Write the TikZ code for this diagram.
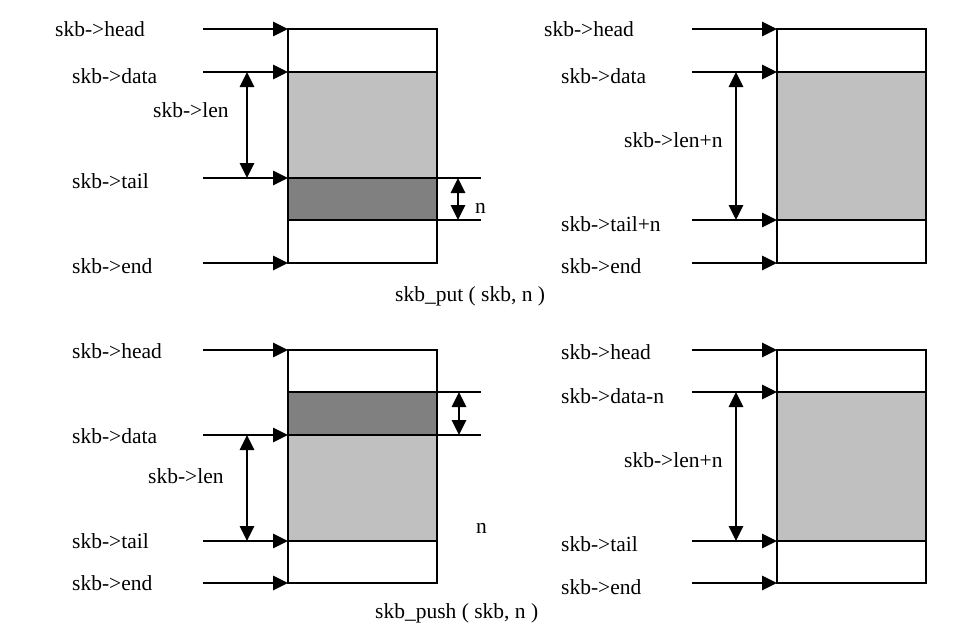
\documentclass[tikz,border=0pt]{standalone}
\usepackage{fontspec}
\setmainfont{Liberation Serif}
\usepackage{xcolor}
\usetikzlibrary{arrows.meta}
\definecolor{lightfill}{HTML}{C0C0C0}
\definecolor{darkfill}{HTML}{808080}
\tikzstyle{ptrname} = [anchor=base west, inner sep=0pt, font=\fontsize{21.5}{26}\selectfont]
\tikzstyle{bufbox} = [draw=black, line width=1.6pt]
\tikzstyle{divline} = [line width=2.2pt]
\tikzstyle{extline} = [line width=1.6pt]
\tikzstyle{ptrarrow} = [line width=2.8pt, -{Triangle[length=15pt, width=14pt]}]
\tikzstyle{lenarrow} = [line width=2.8pt, {Triangle[length=15pt, width=14pt]}-{Triangle[length=15pt, width=14pt]}]

\begin{document}
\begin{tikzpicture}[x=1pt, y=-1pt]
\useasboundingbox (0,0) rectangle (963,634);

% skb_put, before
\fill [lightfill] (288,72) rectangle (437,178);
\fill [darkfill] (288,178) rectangle (437,220);
\draw [bufbox] (288,29) rectangle (437,263);
\draw [divline] (288,72) -- (437,72);
\draw [divline] (288,178) -- (437,178);
\draw [extline] (437,178) -- (481,178);
\draw [extline] (288,220) -- (481,220);
\node (puthead) [ptrname] at (55,37) {skb->head};
\node (putdata) [ptrname] at (72,83) {skb->data};
\node (putlen) [ptrname] at (153,117) {skb->len};
\node (puttail) [ptrname] at (72,188) {skb->tail};
\node (putend) [ptrname] at (72,273) {skb->end};
\node (putn) [ptrname] at (475,213) {n};
\coordinate (puthead s) at (203,29);  \coordinate (puthead e) at (288,29);
\coordinate (putdata s) at (203,72);  \coordinate (putdata e) at (288,72);
\coordinate (puttail s) at (203,178); \coordinate (puttail e) at (288,178);
\coordinate (putend s) at (203,263);  \coordinate (putend e) at (288,263);
\coordinate (putlen t) at (247,72);   \coordinate (putlen b) at (247,178);
\coordinate (putn t) at (458,178);    \coordinate (putn b) at (458,220);
\draw [ptrarrow] (puthead s) -- (puthead e);
\draw [ptrarrow] (putdata s) -- (putdata e);
\draw [ptrarrow] (puttail s) -- (puttail e);
\draw [ptrarrow] (putend s) -- (putend e);
\draw [lenarrow] (putlen t) -- (putlen b);
\draw [lenarrow] (putn t) -- (putn b);

% skb_put, after
\fill [lightfill] (777,72) rectangle (926,220);
\draw [bufbox] (777,29) rectangle (926,263);
\draw [divline] (777,72) -- (926,72);
\draw [divline] (777,220) -- (926,220);
\node (aputhead) [ptrname] at (544,37) {skb->head};
\node (aputdata) [ptrname] at (561,83) {skb->data};
\node (aputlen) [ptrname] at (624,147) {skb->len+n};
\node (aputtail) [ptrname] at (561,231) {skb->tail+n};
\node (aputend) [ptrname] at (561,273) {skb->end};
\coordinate (aputhead s) at (692,29);  \coordinate (aputhead e) at (777,29);
\coordinate (aputdata s) at (692,72);  \coordinate (aputdata e) at (777,72);
\coordinate (aputtail s) at (692,220); \coordinate (aputtail e) at (777,220);
\coordinate (aputend s) at (692,263);  \coordinate (aputend e) at (777,263);
\coordinate (aputlen t) at (736,72);   \coordinate (aputlen b) at (736,220);
\draw [ptrarrow] (aputhead s) -- (aputhead e);
\draw [ptrarrow] (aputdata s) -- (aputdata e);
\draw [ptrarrow] (aputtail s) -- (aputtail e);
\draw [ptrarrow] (aputend s) -- (aputend e);
\draw [lenarrow] (aputlen t) -- (aputlen b);

\node (putcap) [ptrname] at (395,301) {skb\_put ( skb, n )};

% skb_push, before
\fill [darkfill] (288,392) rectangle (437,435);
\fill [lightfill] (288,435) rectangle (437,541);
\draw [bufbox] (288,350) rectangle (437,583);
\draw [extline] (288,392) -- (481,392);
\draw [divline] (288,435) -- (437,435);
\draw [extline] (437,435) -- (481,435);
\draw [divline] (288,541) -- (437,541);
\node (pushhead) [ptrname] at (72,358) {skb->head};
\node (pushdata) [ptrname] at (72,443) {skb->data};
\node (pushlen) [ptrname] at (148,483) {skb->len};
\node (pushtail) [ptrname] at (72,548) {skb->tail};
\node (pushend) [ptrname] at (72,590) {skb->end};
\node (pushn) [ptrname] at (476,533) {n};
\coordinate (pushhead s) at (203,350); \coordinate (pushhead e) at (288,350);
\coordinate (pushdata s) at (203,435); \coordinate (pushdata e) at (288,435);
\coordinate (pushtail s) at (203,541); \coordinate (pushtail e) at (288,541);
\coordinate (pushend s) at (203,583);  \coordinate (pushend e) at (288,583);
\coordinate (pushlen t) at (247,435);  \coordinate (pushlen b) at (247,541);
\coordinate (pushn t) at (459,392);    \coordinate (pushn b) at (459,435);
\draw [ptrarrow] (pushhead s) -- (pushhead e);
\draw [ptrarrow] (pushdata s) -- (pushdata e);
\draw [ptrarrow] (pushtail s) -- (pushtail e);
\draw [ptrarrow] (pushend s) -- (pushend e);
\draw [lenarrow] (pushlen t) -- (pushlen b);
\draw [lenarrow] (pushn t) -- (pushn b);

% skb_push, after
\fill [lightfill] (777,392) rectangle (926,541);
\draw [bufbox] (777,350) rectangle (926,583);
\draw [divline] (777,392) -- (926,392);
\draw [divline] (777,541) -- (926,541);
\node (apushhead) [ptrname] at (561,359) {skb->head};
\node (apushdata) [ptrname] at (561,403) {skb->data-n};
\node (apushlen) [ptrname] at (624,467) {skb->len+n};
\node (apushtail) [ptrname] at (561,551) {skb->tail};
\node (apushend) [ptrname] at (561,594) {skb->end};
\coordinate (apushhead s) at (692,350); \coordinate (apushhead e) at (777,350);
\coordinate (apushdata s) at (692,392); \coordinate (apushdata e) at (777,392);
\coordinate (apushtail s) at (692,541); \coordinate (apushtail e) at (777,541);
\coordinate (apushend s) at (692,583);  \coordinate (apushend e) at (777,583);
\coordinate (apushlen t) at (736,392);  \coordinate (apushlen b) at (736,541);
\draw [ptrarrow] (apushhead s) -- (apushhead e);
\draw [ptrarrow] (apushdata s) -- (apushdata e);
\draw [ptrarrow] (apushtail s) -- (apushtail e);
\draw [ptrarrow] (apushend s) -- (apushend e);
\draw [lenarrow] (apushlen t) -- (apushlen b);

\node (pushcap) [ptrname] at (375,618) {skb\_push ( skb, n )};
\end{tikzpicture}
\end{document}
